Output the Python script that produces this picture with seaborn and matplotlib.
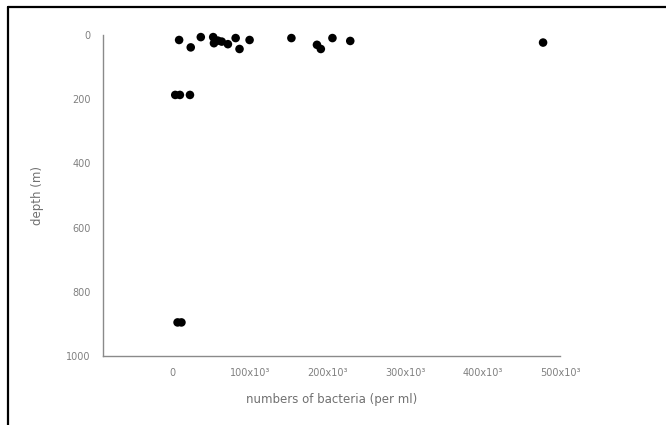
import matplotlib
matplotlib.use("Agg")
import matplotlib.pyplot as plt
from matplotlib.lines import Line2D
import seaborn as sns
import pandas as pd

# bacteria counts in units of 10^3 per ml, depth in m
bacteria = [8, 23, 36, 52, 53, 58, 63, 71, 81, 86, 99, 153, 186, 191, 206, 229, 478,
            3, 9, 22, 6, 11]
depth = [16, 39, 7, 7, 26, 18, 21, 29, 10, 44, 16, 10, 31, 44, 10, 19, 24,
         187, 187, 187, 895, 895]
x_ticks = [0, 100, 200, 300, 400, 500]
x_tick_labels = ["0", "100x10³", "200x10³", "300x10³", "400x10³", "500x10³"]
y_ticks = [0, 200, 400, 600, 800, 1000]

df = pd.DataFrame({"bacteria": bacteria, "depth": depth})

sns.set_style("white")
plt.rcParams['font.family'] = ['DejaVu Sans']

fig = plt.figure(figsize=(6.66, 4.25), dpi=100)
ax = fig.add_axes([0.155, 0.162, 0.686, 0.756])

sns.scatterplot(data=df, x="bacteria", y="depth", ax=ax, color="black",
                s=38, edgecolor="none", clip_on=False, zorder=5)

ax.set_xlim(-90, 500)
ax.set_ylim(1000, 0)
ax.set_xticks(x_ticks)
ax.set_xticklabels(x_tick_labels)
ax.set_yticks(y_ticks)

grey = "#8a8a8a"
for side in ["top", "right"]:
    ax.spines[side].set_visible(False)
for side in ["left", "bottom"]:
    ax.spines[side].set_color(grey)
    ax.spines[side].set_linewidth(1.0)

ax.tick_params(axis="y", direction="out", length=3, width=0.8, color=grey,
               labelsize=7, labelcolor="#808080", pad=6)
ax.tick_params(axis="x", direction="inout", length=5, width=0.8, color=grey,
               labelsize=7, labelcolor="#808080", pad=6)

ax.set_xlabel("numbers of bacteria (per ml)", fontsize=8.5, color="#707070", labelpad=11)
ax.set_ylabel("depth (m)", fontsize=8.5, color="#707070", labelpad=16)

# frame lines of the original image
fig.add_artist(Line2D([0.012, 0.012], [0, 0.984], transform=fig.transFigure,
                      color="black", linewidth=1.6))
fig.add_artist(Line2D([0.012, 1.0], [0.984, 0.984], transform=fig.transFigure,
                      color="black", linewidth=1.6))

fig.savefig("out.png", dpi=100)
